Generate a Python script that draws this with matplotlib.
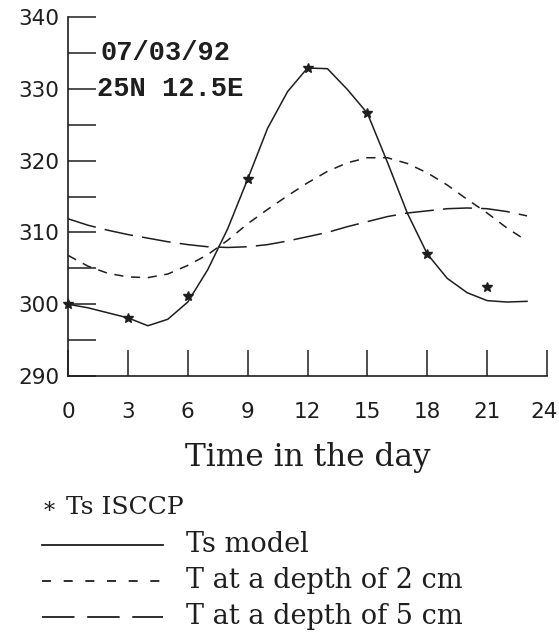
import matplotlib.pyplot as plt
from matplotlib.lines import Line2D
from matplotlib.ticker import MultipleLocator
from matplotlib.transforms import ScaledTranslation

# data
hours_isccp = [0, 3, 6, 9, 12, 15, 18, 21]
ts_isccp = [300.0, 298.1, 301.1, 317.4, 332.9, 326.6, 307.0, 302.4]

hours = list(range(24))
ts_model = [300.0, 299.5, 298.8, 298.1, 297.0, 297.9, 300.3, 304.8, 310.5, 317.4,
            324.5, 329.6, 332.9, 332.8, 329.9, 326.6, 319.8, 312.7, 307.0, 303.6,
            301.6, 300.5, 300.3, 300.4]
t_2cm = [306.8, 305.3, 304.3, 303.8, 303.7, 304.2, 305.4, 306.9, 308.9, 311.2,
         313.2, 315.1, 316.9, 318.5, 319.7, 320.4, 320.4, 319.6, 318.3, 316.6,
         314.6, 312.7, 310.6, 308.8]
t_5cm = [311.9, 311.0, 310.3, 309.7, 309.2, 308.7, 308.3, 308.0, 307.9, 308.0,
         308.3, 308.8, 309.4, 310.0, 310.8, 311.5, 312.2, 312.7, 313.0, 313.3,
         313.4, 313.3, 312.9, 312.3]

xticks = [0, 3, 6, 9, 12, 15, 18, 21, 24]
yticks = [290, 300, 310, 320, 330, 340]

ink = "#1e1e1e"
serif = "DejaVu Serif"

fig = plt.figure(figsize=(5.59, 6.32), dpi=100)
ax = fig.add_axes([68 / 559, 1 - 376 / 632, 479 / 559, 359 / 632])

ax.plot(hours, ts_model, color=ink, lw=1.1)
ax.plot(hours, t_2cm, color=ink, lw=1.1, dashes=(6, 5))
ax.plot(hours, t_5cm, color=ink, lw=1.1, dashes=(19, 6))
ax.plot(hours_isccp, ts_isccp, ls="none", marker="*", ms=7, color=ink, clip_on=False)

ax.set_xlim(0, 24)
ax.set_ylim(290, 340)
ax.set_xticks(xticks)
ax.set_yticks(yticks)
ax.yaxis.set_minor_locator(MultipleLocator(5))
ax.spines["top"].set_visible(False)
ax.spines["right"].set_visible(False)
for s in ("left", "bottom"):
    ax.spines[s].set_color(ink)
    ax.spines[s].set_linewidth(1.2)

ax.tick_params(axis="both", which="both", direction="in", color=ink, width=1.1,
               labelcolor=ink, labelsize=15.5)
ax.tick_params(axis="x", length=19, pad=19)
ax.tick_params(axis="y", which="both", length=20, pad=6)
for lab in ax.get_xticklabels() + ax.get_yticklabels():
    lab.set_family("DejaVu Sans")
# keep the last hour label inside the figure
last = ax.get_xticklabels()[-1]
last.set_transform(last.get_transform() + ScaledTranslation(-3 / 100, 0, fig.dpi_scale_trans))

ax.text(0.068, 335, "07/03/92", transform=ax.get_yaxis_transform(), fontsize=19.5,
        family="Liberation Mono", weight="bold", color=ink, va="center")
ax.text(0.061, 330, "25N 12.5E", transform=ax.get_yaxis_transform(), fontsize=19.5,
        family="Liberation Mono", weight="bold", color=ink, va="center")

ax.set_xlabel("Time in the day", family=serif, fontsize=22.5, color=ink, labelpad=14)

# hand-drawn legend under the axes
def px(x, y):
    return x / 559, 1 - y / 632

fig.text(*px(44, 512), "*", family=serif, fontsize=16, color=ink, va="center")
fig.text(*px(66, 508), "Ts ISCCP", family=serif, fontsize=18, color=ink, va="center")
labels = ["Ts model", "T at a depth of 2 cm", "T at a depth of 5 cm"]
rows = [545, 581, 617]
styles = [dict(), dict(dashes=(5, 7)), dict(dashes=(18, 7))]
for lab, y, st in zip(labels, rows, styles):
    x0, y0 = px(42, y)
    x1, _ = px(163, y)
    fig.add_artist(Line2D([x0, x1], [y0, y0], color=ink, lw=1.3, **st))
    fig.text(*px(186, y), lab, family=serif, fontsize=19.5, color=ink, va="center")

fig.savefig("out.png", dpi=100)
